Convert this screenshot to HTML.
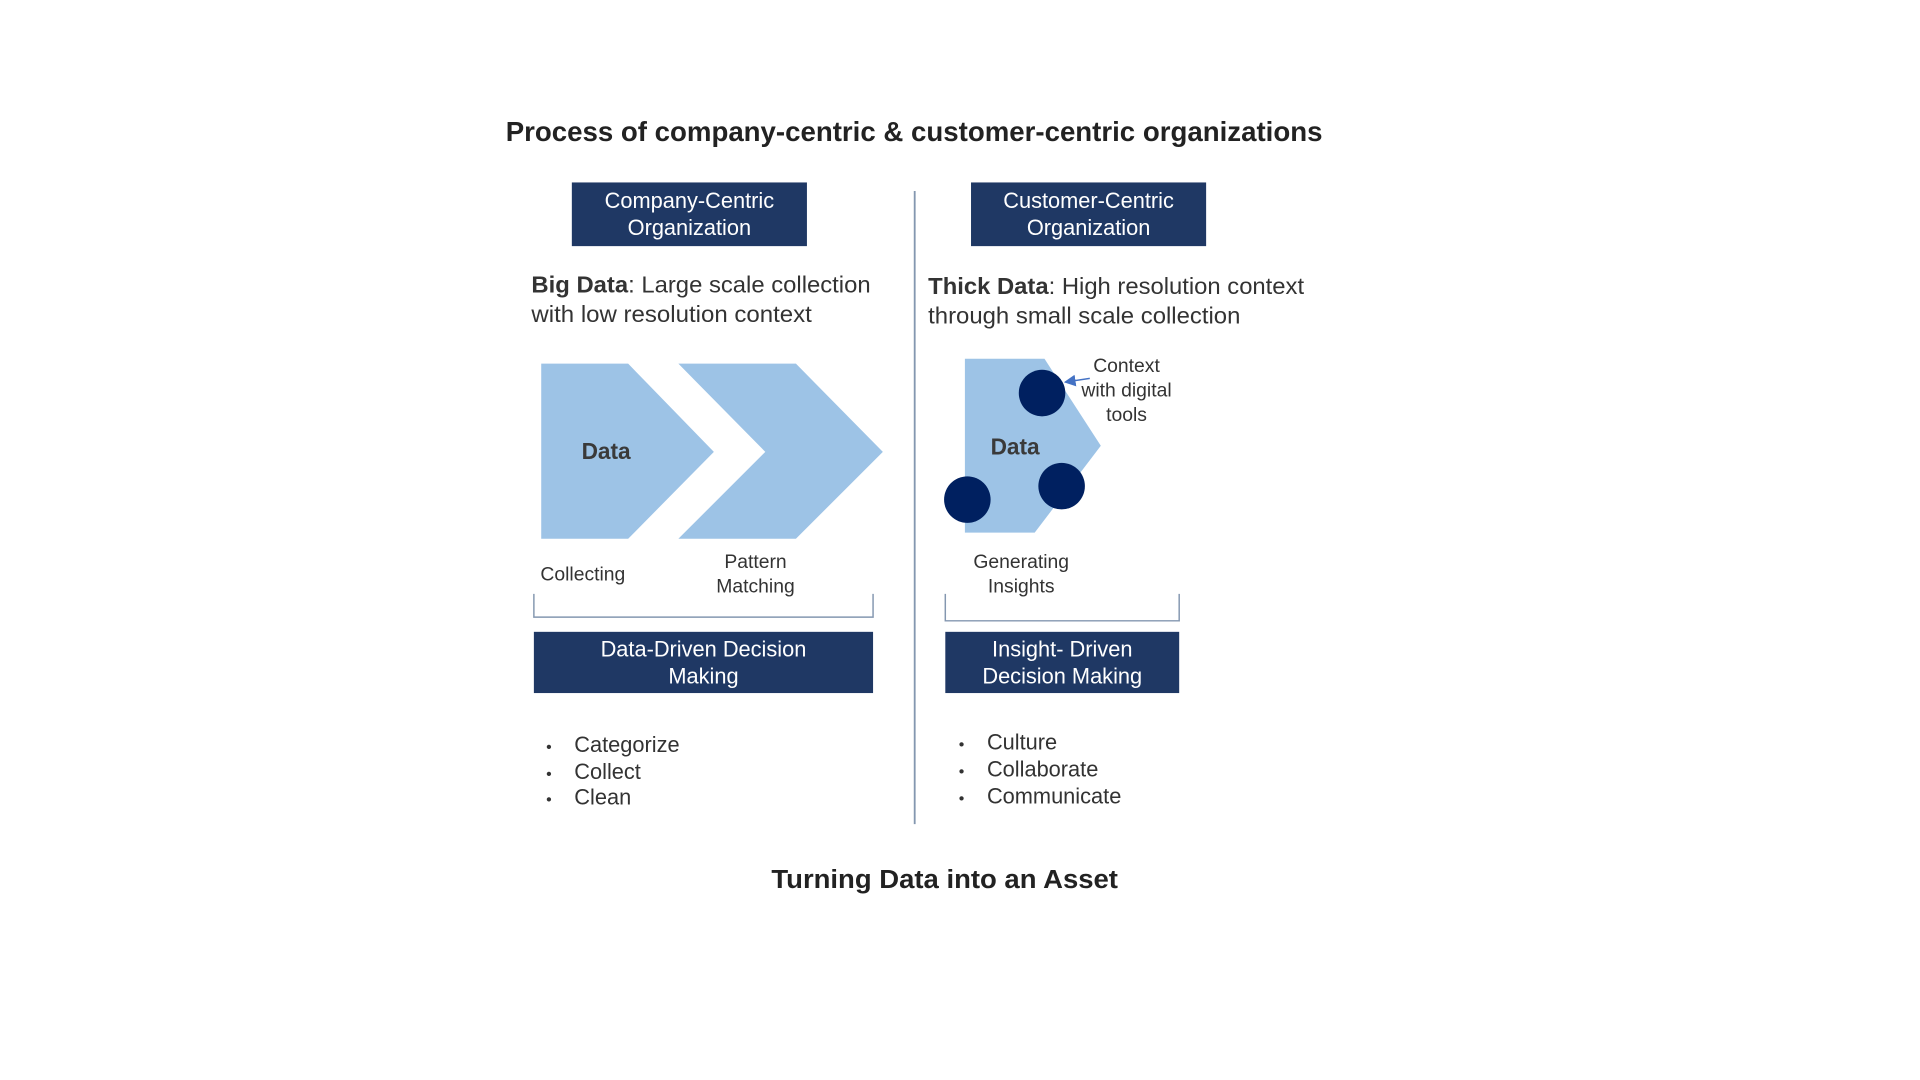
<!DOCTYPE html>
<html><head><meta charset="utf-8"><style>html,body{margin:0;padding:0;background:#fff}svg{display:block}</style></head>
<body>
<svg width="1920" height="1080" viewBox="0 0 1568 882" xmlns="http://www.w3.org/2000/svg" font-family="Liberation Sans, Arial, sans-serif">
<defs><marker id="ah" markerWidth="8" markerHeight="8" refX="7" refY="4" orient="auto"><path d="M0,0 L8,4 L0,8 Z" fill="#4472c4"/></marker></defs>
<text x="413" y="115" font-size="22.3" font-weight="bold" fill="#222" textLength="667" lengthAdjust="spacingAndGlyphs">Process of company-centric &amp; customer-centric organizations</text>
<line x1="747" y1="156" x2="747" y2="673" stroke="#8497b0" stroke-width="1.5"/>
<rect x="467" y="149" width="192" height="52" fill="#1f3864"/>
<text x="563" y="170" text-anchor="middle" font-size="17.8" fill="#fff">Company-Centric</text>
<text x="563" y="192" text-anchor="middle" font-size="17.8" fill="#fff">Organization</text>
<rect x="793" y="149" width="192" height="52" fill="#1f3864"/>
<text x="889" y="170" text-anchor="middle" font-size="17.8" fill="#fff">Customer-Centric</text>
<text x="889" y="192" text-anchor="middle" font-size="17.8" fill="#fff">Organization</text>
<text x="434" y="239" font-size="18.8" fill="#333" textLength="277" lengthAdjust="spacingAndGlyphs"><tspan font-weight="bold">Big Data</tspan>: Large scale collection</text>
<text x="434" y="263" font-size="18.8" fill="#333" textLength="229" lengthAdjust="spacingAndGlyphs">with low resolution context</text>
<text x="758" y="240" font-size="18.8" fill="#333" textLength="307" lengthAdjust="spacingAndGlyphs"><tspan font-weight="bold">Thick Data</tspan>: High resolution context</text>
<text x="758" y="264" font-size="18.8" fill="#333" textLength="255" lengthAdjust="spacingAndGlyphs">through small scale collection</text>
<polygon points="442,297 513,297 583,369 513,440 442,440" fill="#9dc3e6"/>
<polygon points="554,297 650,297 721,369 650,440 554,440 625,369" fill="#9dc3e6"/>
<text x="495" y="375" text-anchor="middle" font-size="18.5" font-weight="bold" fill="#3a3a3a">Data</text>
<text x="476" y="474" text-anchor="middle" font-size="15.8" fill="#333">Collecting</text>
<text x="617" y="464" text-anchor="middle" font-size="15.8" fill="#333">Pattern</text>
<text x="617" y="484" text-anchor="middle" font-size="15.8" fill="#333">Matching</text>
<polyline points="436,485 436,504 713,504 713,485" fill="none" stroke="#8497b0" stroke-width="1.2"/>
<rect x="436" y="516" width="277" height="50" fill="#1f3864"/>
<text x="574.5" y="536" text-anchor="middle" font-size="17.8" fill="#fff">Data-Driven Decision</text>
<text x="574.5" y="558" text-anchor="middle" font-size="17.8" fill="#fff">Making</text>
<g font-size="17.8" fill="#333">
<text x="446" y="614" font-size="13">•</text><text x="469" y="614">Categorize</text>
<text x="446" y="636" font-size="13">•</text><text x="469" y="636">Collect</text>
<text x="446" y="657" font-size="13">•</text><text x="469" y="657">Clean</text>
<text x="783" y="612" font-size="13">•</text><text x="806" y="612">Culture</text>
<text x="783" y="634" font-size="13">•</text><text x="806" y="634">Collaborate</text>
<text x="783" y="656" font-size="13">•</text><text x="806" y="656">Communicate</text>
</g>
<polygon points="788,293 853,293 899,364 845,435 788,435" fill="#9dc3e6"/>
<text x="829" y="371" text-anchor="middle" font-size="18.5" font-weight="bold" fill="#3a3a3a">Data</text>
<circle cx="851" cy="321" r="19" fill="#002060"/>
<circle cx="790" cy="408" r="19" fill="#002060"/>
<circle cx="867" cy="397" r="19" fill="#002060"/>
<line x1="890" y1="309" x2="870" y2="312" stroke="#4472c4" stroke-width="1.2" marker-end="url(#ah)"/>
<text x="920" y="304" text-anchor="middle" font-size="15.8" fill="#333">Context</text>
<text x="920" y="324" text-anchor="middle" font-size="15.8" fill="#333">with digital</text>
<text x="920" y="344" text-anchor="middle" font-size="15.8" fill="#333">tools</text>
<text x="834" y="464" text-anchor="middle" font-size="15.8" fill="#333">Generating</text>
<text x="834" y="484" text-anchor="middle" font-size="15.8" fill="#333">Insights</text>
<polyline points="772,485 772,507 963,507 963,485" fill="none" stroke="#8497b0" stroke-width="1.2"/>
<rect x="772" y="516" width="191" height="50" fill="#1f3864"/>
<text x="867.5" y="536" text-anchor="middle" font-size="17.8" fill="#fff">Insight- Driven</text>
<text x="867.5" y="558" text-anchor="middle" font-size="17.8" fill="#fff">Decision Making</text>
<text x="630" y="725" font-size="21.5" font-weight="bold" fill="#222" textLength="283" lengthAdjust="spacingAndGlyphs">Turning Data into an Asset</text>
</svg>
</body></html>
